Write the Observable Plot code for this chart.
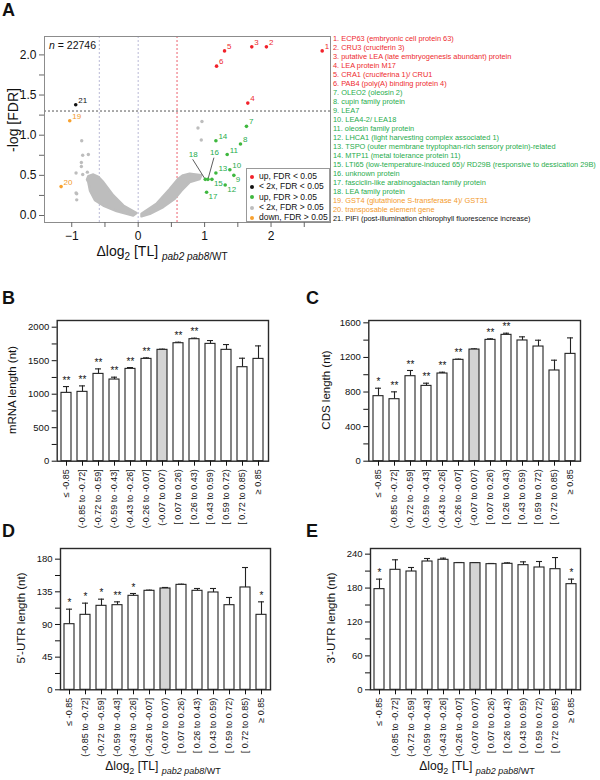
<!DOCTYPE html>
<html><head><meta charset="utf-8">
<script src="https://cdn.jsdelivr.net/npm/d3@7"></script>
<script src="https://cdn.jsdelivr.net/npm/@observablehq/plot@0.6"></script>
<style>
body{margin:0;background:#fff;font-family:"Liberation Sans",Arial,sans-serif;}
#fig{position:relative;width:600px;height:780px;overflow:hidden;background:#fff;color:#111;}
#fig svg{overflow:visible;display:block;}
.letter{position:absolute;font-weight:bold;font-size:18px;line-height:1;}
.rot{position:absolute;white-space:nowrap;transform:translate(-50%,-50%) rotate(-90deg);line-height:1;}
.ctr{position:absolute;white-space:nowrap;transform:translate(-50%,-50%);line-height:1;}
</style></head><body><div id="fig"></div>
<script>
// ---------------- DATA ----------------
// Panel A: labelled genes
const geneNames = ["ECP63 (embryonic cell protein 63)", "CRU3 (cruciferin 3)", "putative LEA (late embryogenesis abundant) protein", "LEA protein M17", "CRA1 (cruciferina 1)/ CRU1", "PAB4 (poly(A) binding  protein 4)", "OLEO2 (oleosin 2)", "cupin family protein", "LEA7", "LEA4-2/ LEA18", "oleosin family protein", "LHCA1 (light harvesting complex associated 1)", "TSPO (outer membrane tryptophan-rich sensory protein)-related", "MTP11 (metal tolerance protein 11)", "LTI65 (low-temperature-induced 65)/ RD29B (responsive to dessication 29B)", "unknown protein", "fasciclin-like arabinogalactan family protein", "LEA family protein", "GST4 (glutathione S-transferase 4)/ GST31", "transposable element gene", "PIFI (post-illumination chlorophyll fluorescence increase)"];
const geneClass = ["sig","sig","sig","sig","sig","sig","up","up","up","up","up","up","up","up","up","up","up","up","down","down","small"];
const geneLog2 = [2.77, 1.93, 1.71, 1.65, 1.30, 1.18, 1.63, 1.54, 1.44, 1.38, 1.34, 1.31, 1.17, 1.17, 1.11, 1.05, 1.03, 1.01, -1.03, -1.16, -0.94];
const geneNegLogFDR = [2.05, 2.10, 2.10, 1.40, 2.05, 1.86, 1.11, 0.89, 0.50, 0.57, 0.76, 0.38, 0.53, 0.93, 0.45, 0.45, 0.29, 0.45, 1.18, 0.36, 1.38];
const labelsBelow = [9, 12, 15, 17];
const calloutIds = [18, 16];
const calloutTextX = [0.83, 1.15];
const calloutTextY = [0.76, 0.785];
const calloutLineX = [0.82, 1.14];
const calloutLineY = [0.70, 0.72];

// background cloud (< 2x, FDR > 0.05) – outline of the dense point cloud
const cloudLeftX = [-0.025, -0.225, -0.375, -0.525, -0.6, -0.675, -0.75, -0.77, -0.75, -0.725, -0.65, -0.525, -0.325, -0.075];
const cloudLeftY = [0.03, 0.125, 0.25, 0.415, 0.48, 0.51, 0.49, 0.45, 0.415, 0.31, 0.19, 0.125, 0.055, 0.0];
const cloudRightX = [0.05, 0.275, 0.475, 0.6, 0.675, 0.775, 0.95, 0.925, 0.775, 0.65, 0.55, 0.375, 0.175, 0.05];
const cloudRightY = [0.02, 0.145, 0.33, 0.455, 0.5, 0.52, 0.5, 0.455, 0.415, 0.31, 0.21, 0.105, 0.02, -0.01];
const sparseX = [0.96, 0.90, 0.95, -0.85, -0.835, -0.75, -0.855, -0.855, -0.935, -0.835, -0.765, -0.935, -0.925, -0.925];
const sparseY = [1.17, 1.09, 0.94, 0.93, 0.75, 0.76, 0.66, 0.61, 0.53, 0.51, 0.54, 0.28, 0.195, 0.27];

const fdrCut = [1.301];
const foldCutUp = [0.585];
const foldCutDown = [-0.585, 0];
const volcanoXTicks = [-1, -0.5, 0, 0.5, 1, 1.5, 2, 2.5];
const volcanoXLabeled = [-1, 0, 1, 2];
const volcanoYTicks = [0, 0.25, 0.5, 0.75, 1, 1.25, 1.5, 1.75, 2];
const volcanoYLabeled = [0, 0.5, 1, 1.5, 2];

const classKeys = ["sig", "small", "up", "bg", "down"];
const classLabels = ["up, FDR < 0.05", "< 2x, FDR < 0.05", "up, FDR > 0.05", "< 2x, FDR > 0.05", "down, FDR > 0.05"];
const classColors = ["#f2222b", "#111111", "#3fb83f", "#bdbdbd", "#f8a12e"];
const classTextColors = ["#ee2a2e", "#111111", "#1fac4d", "#bdbdbd", "#f39a2b"];

// Panels B–E
const categories = ["≤ -0.85", "(-0.85 to -0.72]", "(-0.72 to -0.59]", "(-0.59 to -0.43]", "(-0.43 to -0.26]", "(-0.26 to -0.07]", "(-0.07 to 0.07)", "[ 0.07 to 0.26)", "[ 0.26 to 0.43)", "[ 0.43 to 0.59)", "[ 0.59 to 0.72)", "[ 0.72 to 0.85)", "≥ 0.85"];
const refCategory = "(-0.07 to 0.07)";

const mrnaLength = [1020, 1035, 1303, 1219, 1378, 1527, 1662, 1761, 1821, 1751, 1662, 1403, 1527];
const mrnaErrTop = [1114, 1124, 1378, 1254, 1398, 1542, 1672, 1776, 1836, 1801, 1741, 1537, 1721];
const mrnaSig = ["**", "**", "**", "**", "**", "**", "", "**", "**", "", "", "", ""];
const mrnaTicks = [0, 250, 500, 750, 1000, 1250, 1500, 1750, 2000];
const mrnaLabeled = [0, 500, 1000, 1500, 2000];

const cdsLength = [752, 717, 983, 871, 1014, 1172, 1291, 1403, 1461, 1396, 1326, 1049, 1241];
const cdsErrTop = [844, 802, 1049, 902, 1029, 1180, 1299, 1415, 1480, 1438, 1399, 1168, 1426];
const cdsSig = ["*", "**", "**", "**", "**", "**", "", "**", "**", "", "", "", ""];
const cdsTicks = [0, 200, 400, 600, 800, 1000, 1200, 1400, 1600];
const cdsLabeled = [0, 400, 800, 1200, 1600];

const utr5Length = [90.4, 103.3, 115.7, 116.6, 129.5, 136.4, 139.6, 144.6, 136.4, 134.1, 116.6, 141.0, 103.3];
const utr5ErrTop = [111.1, 119.4, 124.9, 121.2, 132.7, 137.3, 141.0, 145.5, 139.6, 139.6, 127.2, 168.5, 121.2];
const utr5Sig = ["*", "*", "*", "**", "*", "", "", "", "", "", "", "", "*"];
const utr5Ticks = [0, 22.5, 45, 67.5, 90, 112.5, 135, 157.5, 180];
const utr5Labeled = [0, 45, 90, 135, 180];

const utr3Length = [178.1, 212.3, 209.3, 227.0, 230.0, 224.1, 224.1, 222.3, 222.9, 220.5, 216.4, 213.4, 186.9];
const utr3ErrTop = [195.8, 230.0, 216.4, 232.3, 232.9, 225.2, 224.6, 223.5, 224.6, 226.4, 227.0, 234.0, 195.8];
const utr3Sig = ["*", "", "", "", "", "", "", "", "", "", "", "", "*"];
const utr3Ticks = [0, 30, 60, 90, 120, 150, 180, 210, 240];
const utr3Labeled = [0, 60, 120, 180, 240];

// ---------------- HELPERS ----------------
const fig = document.getElementById("fig");
function put(el, left, top) { el.style.position = "absolute"; el.style.left = left + "px"; el.style.top = top + "px"; fig.appendChild(el); return el; }
function div(html, cls, style) { const d = document.createElement("div"); if (cls) d.className = cls; d.innerHTML = html; Object.assign(d.style, style || {}); return d; }
const FONT = "Liberation Sans, Arial, sans-serif";
const colorOf = k => classColors[classKeys.indexOf(k)];
const textColorOf = k => classTextColors[classKeys.indexOf(k)];

// ---------------- PANEL A ----------------
const genes = geneNames.map((n, i) => ({id: i + 1, name: n, cls: geneClass[i], x: geneLog2[i], y: geneNegLogFDR[i]}));
const cloudL = cloudLeftX.map((x, i) => ({x, y: cloudLeftY[i]}));
const cloudR = cloudRightX.map((x, i) => ({x, y: cloudRightY[i]}));
const sparse = sparseX.map((x, i) => ({x, y: sparseY[i]}));
const callouts = calloutIds.map((id, i) => ({id, tx: calloutTextX[i], ty: calloutTextY[i], lx: calloutLineX[i], ly: calloutLineY[i], px: geneLog2[id - 1], py: geneNegLogFDR[id - 1], cls: geneClass[id - 1]}));
const plainLabels = genes.filter(g => !calloutIds.includes(g.id));
const fmtInt = d3.format("d");

const volcano = Plot.plot({
  width: 340, height: 260, marginLeft: 44, marginTop: 36, marginRight: 10, marginBottom: 38,
  style: {fontFamily: FONT, fontSize: "12px", color: "#111", background: "transparent", overflow: "visible"},
  x: {domain: [-1.41, 2.895]},
  y: {domain: [-0.087, 2.229]},
  marks: [
    Plot.ruleX(foldCutDown, {stroke: "#b9b9d6", strokeDasharray: "2,2", strokeWidth: 1}),
    Plot.ruleX(foldCutUp, {stroke: "#f07b86", strokeDasharray: "2,2", strokeWidth: 1.2}),
    Plot.ruleY(fdrCut, {stroke: "#555", strokeDasharray: "2,2", strokeWidth: 1}),
    Plot.line(cloudL, {x: "x", y: "y", fill: "#bdbdbd", stroke: "#bdbdbd", strokeWidth: 2.5, curve: "linear-closed"}),
    Plot.line(cloudR, {x: "x", y: "y", fill: "#bdbdbd", stroke: "#bdbdbd", strokeWidth: 2.5, curve: "linear-closed"}),
    Plot.dot(sparse, {x: "x", y: "y", r: 1.7, fill: "#bdbdbd"}),
    Plot.link(callouts, {x1: "lx", y1: "ly", x2: "px", y2: "py", stroke: "#333", strokeWidth: 0.8}),
    Plot.dot(genes, {x: "x", y: "y", r: 1.8, fill: d => colorOf(d.cls)}),
    Plot.text(plainLabels.filter(g => !labelsBelow.includes(g.id)), {x: "x", y: "y", text: d => String(d.id), fill: d => textColorOf(d.cls), textAnchor: "start", dx: 2.5, dy: -4.5, fontSize: 8}),
    Plot.text(plainLabels.filter(g => labelsBelow.includes(g.id)), {x: "x", y: "y", text: d => String(d.id), fill: d => textColorOf(d.cls), textAnchor: "start", dx: 2, dy: 4.5, fontSize: 8}),
    Plot.text(callouts, {x: "tx", y: "ty", text: d => String(d.id), fill: d => textColorOf(d.cls), fontSize: 8}),
    Plot.frame({stroke: "#8c8c8c", strokeWidth: 1}),
    Plot.axisX({ticks: volcanoXTicks, tickFormat: d => volcanoXLabeled.includes(d) ? fmtInt(d) : "", tickSize: 5, tickPadding: 4, label: null, stroke: "#666"}),
    Plot.axisY({ticks: volcanoYTicks, tickFormat: d => volcanoYLabeled.includes(d) ? d.toFixed(1) : "", tickSize: 5, tickPadding: 3, label: null, stroke: "#666"})
  ]
});
put(volcano, 0, 0);

put(div("A", "letter"), 2, 1);
put(div("<i>n</i> = 22746", "", {fontSize: "10.5px", whiteSpace: "nowrap", lineHeight: "1"}), 49, 40);
put(div("-log [FDR]", "rot", {fontSize: "14px"}), 13, 120);
put(div("Δlog<sub style='font-size:10px'>2</sub> [TL] <sub style='font-size:10px'><i>pab2 pab8</i>/WT</sub>", "ctr", {fontSize: "14px"}), 162, 253);

// legend inside A
const leg = div("", "", {width: "84px", height: "54px", border: "1px solid #999", background: "#fff", boxSizing: "border-box", fontFamily: FONT, fontSize: "8.5px"});
classLabels.forEach((lab, i) => {
  const row = div(`<span style="display:inline-block;width:4px;height:4px;border-radius:2px;background:${classColors[i]};margin-right:5px;vertical-align:middle"></span>${lab}`, "", {position: "absolute", left: "3px", top: (2 + i * 10.3) + "px", whiteSpace: "nowrap", lineHeight: "10px"});
  leg.appendChild(row);
});
put(leg, 246, 168);

// gene list at right
const list = div("", "", {width: "266px", fontFamily: FONT, fontSize: "7.4px", lineHeight: "9px", whiteSpace: "nowrap"});
genes.forEach(g => {
  list.appendChild(div(`${g.id}. ${g.name}`, "", {color: textColorOf(g.cls)}));
});
put(list, 333, 33.5);

// ---------------- PANELS B–E ----------------
function barPanel(values, errTop, sig, ticks, labeled, yMax, geom) {
  const data = categories.map((c, i) => ({c, v: values[i], e: errTop[i], s: sig[i], ref: c === refCategory}));
  return Plot.plot({
    width: geom.width, height: geom.height,
    marginLeft: geom.mL, marginRight: geom.mR, marginTop: geom.mT, marginBottom: geom.mB,
    style: {fontFamily: FONT, fontSize: "9px", color: "#111", background: "transparent", overflow: "visible"},
    x: {type: "band", domain: categories, paddingInner: 0.38, paddingOuter: 0.2},
    y: {domain: [0, yMax]},
    marks: [
      Plot.ruleX(data, {x: "c", y1: "v", y2: "e", stroke: "#222", strokeWidth: 1.1}),
      Plot.tickY(data, {x: "c", y: "e", stroke: "#222", strokeWidth: 1.1, insetLeft: 2, insetRight: 2}),
      Plot.barY(data, {x: "c", y: "v", fill: d => d.ref ? "#d4d4d4" : "#fff", stroke: "#222", strokeWidth: 1.1}),
      Plot.text(data.filter(d => d.s), {x: "c", y: "e", text: "s", dy: -6, fontSize: 10}),
      Plot.frame({stroke: "#2a2a2a", strokeWidth: 1.4}),
      Plot.axisY({ticks, tickFormat: d => labeled.includes(d) ? String(d) : "", tickSize: 5, tickPadding: 3, label: null, fontSize: 9.5}),
      Plot.axisX({tickRotate: -90, tickSize: 5, tickPadding: 3, label: null, fontSize: 9})
    ]
  });
}

put(barPanel(mrnaLength, mrnaErrTop, mrnaSig, mrnaTicks, mrnaLabeled, 2100,
  {width: 290, height: 225, mL: 56.7, mR: 22, mT: 20, mB: 64.3}), 0, 300);
put(barPanel(cdsLength, cdsErrTop, cdsSig, cdsTicks, cdsLabeled, 1627,
  {width: 300, height: 225, mL: 68.3, mR: 20, mT: 20, mB: 64.3}), 300, 300);
put(barPanel(utr5Length, utr5ErrTop, utr5Sig, utr5Ticks, utr5Labeled, 194.7,
  {width: 290, height: 235, mL: 60, mR: 20, mT: 20, mB: 73.7}), 0, 527.7);
put(barPanel(utr3Length, utr3ErrTop, utr3Sig, utr3Ticks, utr3Labeled, 250,
  {width: 300, height: 235, mL: 70, mR: 20, mT: 20, mB: 73.7}), 300, 527.7);

put(div("B", "letter"), 2, 289);
put(div("C", "letter"), 306, 289);
put(div("D", "letter"), 2, 522);
put(div("E", "letter"), 306, 522);

put(div("mRNA length (nt)", "rot", {fontSize: "11.5px"}), 13, 390);
put(div("CDS length (nt)", "rot", {fontSize: "11.5px"}), 327, 390);
put(div("5'-UTR length (nt)", "rot", {fontSize: "11.5px"}), 22, 618);
put(div("3'-UTR length (nt)", "rot", {fontSize: "11.5px"}), 332, 618);

const xTitle = "Δlog<sub style='font-size:9px'>2</sub> [TL] <sub style='font-size:9px'><i>pab2 pab8</i>/WT</sub>";
put(div(xTitle, "ctr", {fontSize: "12px"}), 163, 768);
put(div(xTitle, "ctr", {fontSize: "12px"}), 477, 768);
</script></body></html>
